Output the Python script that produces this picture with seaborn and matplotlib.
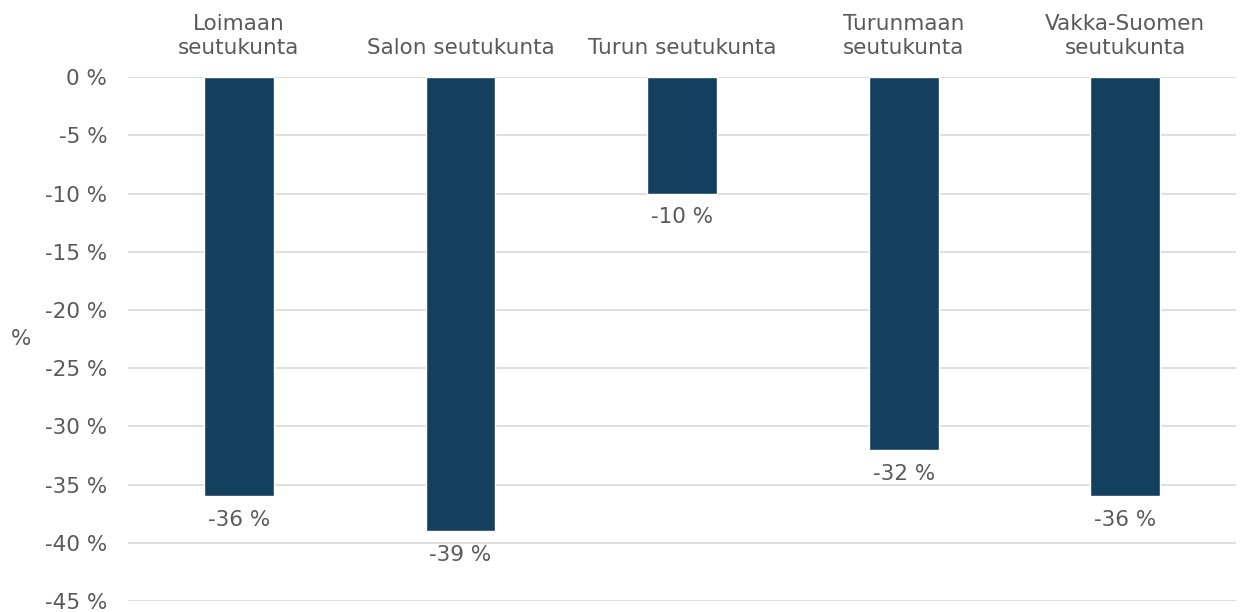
import matplotlib
matplotlib.use("Agg")
import matplotlib.pyplot as plt
import seaborn as sns
import pandas as pd

categories = ["Loimaan\nseutukunta", "Salon seutukunta", "Turun seutukunta",
              "Turunmaan\nseutukunta", "Vakka-Suomen\nseutukunta"]
values = [-36, -39, -10, -32, -36]
yticks = [0, -5, -10, -15, -20, -25, -30, -35, -40, -45]

sns.set_theme(style="white")
plt.rcParams['font.family'] = ['DejaVu Sans']
text_color = "#595959"
bar_color = "#13405f"
fs = 15.5

df = pd.DataFrame({"cat": categories, "val": values})

fig = plt.figure(figsize=(12.44, 6.12), dpi=100)
ax = fig.add_axes([0.1029, 0.018, 0.8907, 0.856])
sns.barplot(data=df, x="cat", y="val", color=bar_color, width=0.315,
            saturation=1, ax=ax, zorder=3)

ax.set_ylim(-45, 0)
ax.set_yticks(yticks)
ax.set_yticklabels([f"{t} %" for t in yticks], color=text_color, fontsize=fs)
ax.yaxis.grid(True, color="#d9d9d9", linewidth=1.2, zorder=0)
ax.set_axisbelow(True)
for s in ax.spines.values():
    s.set_visible(False)
ax.tick_params(axis="both", length=0)
ax.tick_params(axis="y", pad=15)

ax.xaxis.tick_top()
ax.set_xticks(range(len(categories)))
ax.set_xticklabels(categories, color=text_color, fontsize=fs, linespacing=1.25)
ax.tick_params(axis="x", pad=14)
ax.set_xlabel("")
ax.set_ylabel("%", rotation=0, color=text_color, fontsize=fs, ha="center", va="center")
ax.yaxis.set_label_coords(-0.0966, 0.5)

for i, v in enumerate(values):
    ax.text(i, v - 2.05, f"{v} %", ha="center", va="center", color=text_color, fontsize=fs)

fig.savefig("out.png", dpi=100)
